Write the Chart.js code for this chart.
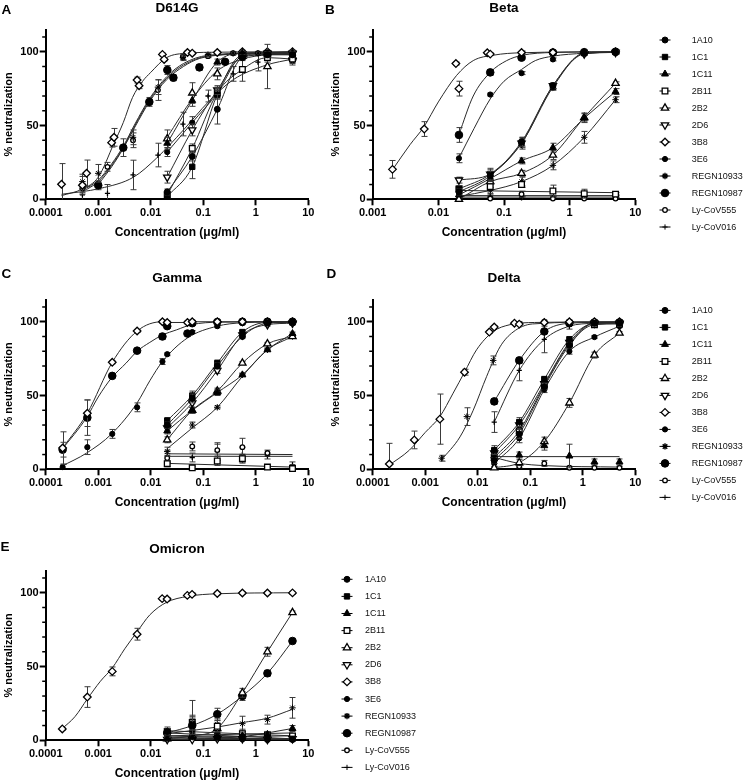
<!DOCTYPE html>
<html><head><meta charset="utf-8">
<script src="https://cdn.jsdelivr.net/npm/chart.js@4.4.1/dist/chart.umd.min.js"></script>
<style>
html,body{margin:0;padding:0;background:#fff;}
#root{position:relative;width:747px;height:782px;overflow:hidden;font-family:'Liberation Sans',Arial,sans-serif;background:#fff;}
canvas{position:absolute;}
.letter{position:absolute;font-weight:bold;font-size:13.5px;line-height:13.5px;color:#000;}
.legtxt{position:absolute;font-size:9px;line-height:12px;height:12px;color:#111;white-space:nowrap;}
</style></head><body><div id="root"></div>
<script>
// ---------------- DATA ----------------
const SERIES = ['1A10','1C1','1C11','2B11','2B2','2D6','3B8','3E6','REGN10933','REGN10987','Ly-CoV555','Ly-CoV016'];
const CONC = [0.0206, 0.0617, 0.185, 0.556, 1.667, 5];
const X_TICKS_WIDE = [0.0001, 0.001, 0.01, 0.1, 1, 10];
const X_LABELS_WIDE = ['0.0001','0.001','0.01','0.1','1','10'];
const X_TICKS_NARROW = [0.001, 0.01, 0.1, 1, 10];
const X_LABELS_NARROW = ['0.001','0.01','0.1','1','10'];
const Y_TICKS = [0, 50, 100];
const Y_MINOR = [10, 20, 30, 40, 60, 70, 80, 90, 110];

const D614G = {
 '1A10': {y:[5,29,61,96,98,98], e:[2,3,10,2,2,2]},
 '1C1': {y:[1.8,22,71,98,99,98], e:[1,8,3,1,1,1]},
 '1C11': {y:[38,67,93,99,98,99], e:[4,4,2,1,2,2]},
 '2B11': {y:[3,34.5,72,88,96,95], e:[2,3,4,8,3,4]},
 '2B2': {y:[41,72,85,97,90,97], e:[6,7,4,2,15,3], fx:CONC, fy:[42,68,87,95,98,99]},
 '2D6': {y:[15,47,74,97,99,99], e:[4,4,3,2,1,1]},
 '3B8': {x:[0.0002,0.0005,0.0006,0.0018,0.002,0.0055,0.006,0.0167,0.018,0.05,0.0617,0.185,0.556,1.667,5],
         y:[10.2,9.5,17.6,38.4,42,80.8,77,98.2,94.8,99.5,99,99.5,100,100,100],
         e:[14,6,9,3,6,2,2,1,1,1,1,1,1,1,1],
         fx:[0.0002,0.0005,0.001,0.002,0.003,0.0045,0.007,0.01,0.02,0.05,0.2,5],
         fy:[2.5,7,15,38,52,69,80,86,96,99,99.7,100]},
 '3E6': {y:[32,52,72,97,98,98], e:[3,4,3,2,2,2]},
 'REGN10933': {x:[0.0005,0.001,0.0046,0.0137,0.041,0.123,0.37,1.1,5], y:[12,17.6,42,76,96,98,99,99,99], e:[5,6,5,5,2,1,1,1,1],
         fx:[0.0005,0.001,0.0018,0.003,0.005,0.0094,0.02,0.042,0.12,5], fy:[6,13,24,36,51,68,83,92,97.5,99.8]},
 'REGN10987': {x:[0.001,0.003,0.0094,0.0207,0.027,0.0845,0.26,0.556,1.667,5], y:[9.5,35,66,87.6,82.4,89.4,93.2,97,98,95], e:[3,6,3,3,2,2,1,2,2,3],
         fx:[0.001,0.0018,0.003,0.005,0.0094,0.02,0.042,0.086,0.26,1.6,5], fy:[10,22,34.5,49,66,81,90,95.5,98,99.3,99.8]},
 'Ly-CoV555': {x:[0.0005,0.0015,0.0046,0.0137,0.041,0.123,0.37,1.1,5], y:[7.5,22,40,74,96.6,97,99,99,99], e:[3,3,5,7,2,1,1,1,1],
         fx:[0.0005,0.001,0.0018,0.003,0.005,0.0094,0.02,0.042,0.12,5], fy:[5,12,23,35,50,67,82,91,97,99.7]},
 'Ly-CoV016': {x:[0.0005,0.0015,0.0046,0.0137,0.041,0.123,0.37,1.1,5], y:[3,4,16.5,30,51,70,85,93,97], e:[4,6,10,8,8,4,5,6,3],
         fx:[0.0002,0.0011,0.0047,0.013,0.042,0.125,0.37,1.6,5], fy:[3.4,7.4,15,28,47,66,81,91,95]}
};

const BETA = {
 '1A10': {y:[5,16,39,77,99,99.5], e:[2,3,3,2,1,1]},
 '1C1': {y:[7,17,38,76,99,99.7], e:[2,4,4,2,1,1]},
 '1C11': {y:[3,14,26,35,55,73], e:[1,2,2,3,3,2]},
 '2B11': {y:[7,8.6,10,5.6,3.8,3.5], e:[2,2,2,4,3,1], fx:[0.0206,5], fy:[6,4.5]},
 '2B2': {y:[0,12,17.6,30,55.5,78.6], e:[1,2,2,3,3,1]},
 '2D6': {y:[13,17,38,77,98.5,99.5], e:[2,3,3,2,1,1]},
 '3B8': {x:[0.002,0.0061,0.0185,0.0206,0.0556,0.0617,0.185,0.556,1.667,5],
         y:[20.3,47.6,92,75,99.3,98.4,99.5,99.5,99.3,100], e:[6,5,1,5,1,1,1,1,1,1],
         fx:[0.002,0.0037,0.006,0.01,0.019,0.034,0.07,0.18,5], fy:[20,37,49,66,84,94,97.7,99.3,100]},
 '3E6': {y:[27.8,71,85.5,94.8,99.5,100], e:[3,1,1,1,1,1],
         fx:[0.0206,0.035,0.0617,0.1,0.185,0.3,0.556,1.667,5], fy:[28,48,68,80,88,94,97,99,100]},
 'REGN10933': {y:[2,6,12,23,42,67.5], e:[1,2,3,3,4,2]},
 'REGN10987': {y:[43.6,86,96,99.5,99.7,100], e:[5,2,1,1,1,1],
         fx:[0.0206,0.034,0.0617,0.11,0.185,0.556,5], fy:[44,70,86,94,97.5,99.5,100]},
 'Ly-CoV555': {y:[1,0.5,3.5,0.5,0.5,0.5], e:[1,1,2,1,1,1], fx:[0.0206,5], fy:[1.5,1.5]},
 'Ly-CoV016': {y:[3,2,1,1,1,2], e:[1,1,1,1,1,1], fx:[0.0206,5], fy:[2.5,2.5]}
};

const GAMMA = {
 '1A10': {y:[30,48,70,90,99,99.6], e:[2,3,2,1,1,1]},
 '1C1': {y:[33,50,72,93,99.5,99.5], e:[2,3,2,1,1,1]},
 '1C11': {y:[26,40,52,64,81,92], e:[2,2,2,1,1,1]},
 '2B11': {y:[3.8,1,5.6,7.2,1.5,0.5], e:[2,1,3,3,1,1], fx:[0.0206,5], fy:[4,1.5]},
 '2B2': {y:[20,40,53,72,85,90], e:[2,2,2,1,1,1]},
 '2D6': {y:[28,45,67,91,98,99], e:[2,3,2,1,1,1]},
 '3B8': {x:[0.00021,0.00062,0.00185,0.0055,0.0167,0.0206,0.05,0.0617,0.185,0.556,1.667,5],
         y:[14.4,38,72.5,93.7,100,99.5,99.5,100,100,100,100,100], e:[11,9,1,1,1,1,1,1,1,1,1,1]},
 '3E6': {x:[0.00021,0.00062,0.00185,0.0055,0.0167,0.0206,0.05,0.0617,0.185,0.556,1.667,5],
         y:[1.5,15,24,42,73,78,91.5,93,97,99,100,100], e:[2,5,3,3,2,1,1,1,1,1,1,1],
         fx:[0.0002,0.0006,0.0018,0.0055,0.0096,0.0167,0.05,0.185,0.556,5], fy:[2,11,24,45,60,73,89,97,99.3,100]},
 'REGN10933': {y:[12,30,42,64,81,90], e:[3,2,1,1,1,1], fx:CONC, fy:[14,28,42,63,81,90]},
 'REGN10987': {x:[0.00021,0.00062,0.00185,0.0055,0.0167,0.0206,0.05,0.0617,0.185,0.556,1.667,5],
         y:[13.3,35,63.3,80.4,90,97,92,99,99.8,100,100,100], e:[5,12,1,1,2,1,1,1,1,1,1,1],
         fx:[0.0002,0.0006,0.001,0.0018,0.0034,0.0055,0.0096,0.0167,0.031,0.06,0.2,5], fy:[13,35,49,62,72,80,86,91,94.5,98,99.7,100]},
 'Ly-CoV555': {y:[7.6,15.5,13,15,11,1], e:[3,3,4,6,2,2], fx:[0.0206,5], fy:[10.5,10]},
 'Ly-CoV016': {y:[9,8,12,10,9,3], e:[4,3,6,5,2,2], fx:[0.0206,5], fy:[8.8,8.8]}
};

const DELTA = {
 '1A10': {y:[6,24,56,84,99,99], e:[2,3,2,2,1,1]},
 '1C1': {y:[13,32,61,88,99,99.5], e:[3,3,2,2,1,1]},
 '1C11': {y:[9,9.7,16,9,5,5], e:[2,2,3,8,2,2], fx:[0.0206,5], fy:[8.6,8.6]},
 '2B11': {y:[8,26,57,85,98,98.5], e:[2,3,2,2,1,1]},
 '2B2': {y:[1,4.5,18.8,45,77.4,92.3], e:[1,2,3,3,2,1]},
 '2D6': {y:[11,30,58,86,99,99], e:[2,3,2,2,1,1]},
 '3B8': {x:[0.000207,0.00062,0.0019,0.0056,0.0166,0.0206,0.05,0.0617,0.185,0.556,1.667,5],
         y:[3.6,19.9,34,65.8,93,96.4,99,98.4,99.5,100,100,100], e:[14,6,17,2,1,1,1,1,1,1,1,1],
         fx:[0.0002,0.0005,0.001,0.0019,0.0034,0.0056,0.0095,0.0198,0.041,0.12,5], fy:[2.5,13,25,35.7,51.6,65.8,81,93.4,98,99.5,100]},
 '3E6': {y:[4,21,54,80,89.6,97], e:[2,3,2,2,1,1]},
 'REGN10933': {x:[0.00205,0.0062,0.0197,0.0617,0.185,0.556,1.667,5], y:[7.5,35.7,73.8,99,100,100,100,100], e:[2,6,3,1,1,1,1,1],
         fx:[0.002,0.0046,0.0082,0.0148,0.0266,0.047,0.11,5], fy:[6,22,40,63,83,93,98.5,100]},
 'REGN10987': {y:[46,73.8,93.4,99,99.5,99.5], e:[2,2,1,1,1,1]},
 'Ly-CoV555': {y:[10,2,4,1,1,1], e:[3,1,2,1,1,1], fx:[0.0206,0.0617,0.185,5], fy:[8,4,2.5,1.5]},
 'Ly-CoV016': {y:[32,67,88,97,99,99.5], e:[7,7,9,2,1,1]}
};

const OMICRON = {
 '1A10': {y:[6,10,2,1,0.5,0.5], e:[2,6,2,1,1,1], fx:[0.0206,5], fy:[3,0.5]},
 '1C1': {y:[5.5,11,3,2,1.5,1], e:[2,4,2,1,1,1], fx:[0.0206,5], fy:[5,1]},
 '1C11': {y:[1,2,1.5,3,4,8], e:[1,2,1,2,2,2], fx:[0.0206,0.556,5], fy:[0.5,2.5,8]},
 '2B11': {y:[6,12,9.5,4.5,3.6,3], e:[3,5,4,3,2,1], fx:[0.0206,5], fy:[6.5,3]},
 '2B2': {y:[1,3,8,32.2,60,86.6], e:[1,2,2,3,3,1]},
 '2D6': {y:[0.5,0.5,1,1,0.5,1], e:[1,1,1,1,1,1], fx:[0.0206,5], fy:[0.5,0.5]},
 '3B8': {x:[0.000207,0.00062,0.00185,0.0055,0.0165,0.0205,0.0497,0.0612,0.185,0.556,1.667,5],
         y:[7.7,29.3,46.7,71.9,96,95.7,98.2,98.9,99.5,99.8,99.8,99.9], e:[1,7,3,4,1,1,1,1,1,1,1,1],
         fx:[0.0002,0.00036,0.00062,0.0011,0.00185,0.0032,0.0055,0.0096,0.02,0.05,0.185,5],
         fy:[7.5,16,28,40,49,62,73.5,85,93.5,97.5,99.3,100]},
 '3E6': {y:[1,6,2,3,2,3], e:[1,3,1,1,1,1], fx:[0.0206,5], fy:[2,3]},
 'REGN10933': {y:[4,9,11,11.3,14,22], e:[2,5,4,5,3,7], fx:[0.0206,0.185,0.556,1.667,5], fy:[4.5,9,12,15,21]},
 'REGN10987': {y:[5,10,17.7,30,45.4,67.3], e:[2,3,4,3,2,1]},
 'Ly-CoV555': {y:[2,3,1,1,1,1], e:[1,2,1,1,1,1], fx:[0.0206,5], fy:[1.5,1]},
 'Ly-CoV016': {y:[3,12,5,4,3,2], e:[2,15,3,2,2,2], fx:[0.0206,5], fy:[3,5]}
};

// ---------------- STYLE / LAYOUT ----------------
const MARK = {
 '1A10': {ps:'circle', r:3, fill:true},
 '1C1': {ps:'rect', r:3.8, fill:true},
 '1C11': {ps:'triangle', r:4, fill:true},
 '2B11': {ps:'rect', r:4, fill:false},
 '2B2': {ps:'triangle', r:4.2, fill:false},
 '2D6': {ps:'triangle', r:4.2, fill:false, rot:180},
 '3B8': {ps:'rectRot', r:3.8, fill:false},
 '3E6': {ps:'circle', r:2.6, fill:true},
 'REGN10933': {ps:'star', r:3.2, fill:true},
 'REGN10987': {ps:'circle', r:3.8, fill:true},
 'Ly-CoV555': {ps:'circle', r:2.3, fill:false},
 'Ly-CoV016': {ps:'cross', r:2.6, fill:false}
};

const PANELS = [
 {letter:'A', title:'D614G', data:D614G, ticks:X_TICKS_WIDE, labels:X_LABELS_WIDE, left:0, top:0, lx:1.5, ly:3.3},
 {letter:'B', title:'Beta', data:BETA, ticks:X_TICKS_NARROW, labels:X_LABELS_NARROW, left:327, top:0, lx:325, ly:2.5},
 {letter:'C', title:'Gamma', data:GAMMA, ticks:X_TICKS_WIDE, labels:X_LABELS_WIDE, left:0, top:270, lx:1.5, ly:266.6},
 {letter:'D', title:'Delta', data:DELTA, ticks:X_TICKS_WIDE, labels:X_LABELS_WIDE, left:327, top:270, lx:326.5, ly:266.6},
 {letter:'E', title:'Omicron', data:OMICRON, ticks:X_TICKS_WIDE, labels:X_LABELS_WIDE, left:0, top:541, lx:0.5, ly:540}
];
const LEGENDS = [
 {mx:664.7, tx:691.7, y0:40, dy:17},
 {mx:664.7, tx:691.7, y0:310.4, dy:17},
 {mx:347.2, tx:365, y0:579.3, dy:17.1}
];

const CW = 330, CH = 240;
const root = document.getElementById('root');
Chart.defaults.font.family = "'Liberation Sans', Arial, sans-serif";
Chart.defaults.color = '#000';

const errorBars = {
  id: 'errorBars',
  beforeDatasetDraw(chart, args) {
    const ds = chart.data.datasets[args.index];
    if (!ds.errs) return;
    const ys = chart.scales.y, ctx = chart.ctx;
    ctx.save();
    ctx.strokeStyle = '#3a3a3a'; ctx.lineWidth = 1;
    args.meta.data.forEach((pt, i) => {
      const e = ds.errs[i]; if (!e) return;
      const v = ds.data[i].y;
      const x = Math.round(pt.x) + 0.5;
      const y1 = ys.getPixelForValue(v + e), y2 = ys.getPixelForValue(Math.max(0, v - e));
      ctx.beginPath();
      ctx.moveTo(x, y1); ctx.lineTo(x, y2);
      ctx.moveTo(x - 3, y1); ctx.lineTo(x + 3, y1);
      if (v - e > 0) { ctx.moveTo(x - 3, y2); ctx.lineTo(x + 3, y2); }
      ctx.stroke();
    });
    ctx.restore();
  }
};
const minorTicks = {
  id: 'minorTicks',
  afterDraw(chart) {
    const y = chart.scales.y, ctx = chart.ctx;
    ctx.save(); ctx.strokeStyle = '#000'; ctx.lineWidth = 1.5;
    Y_MINOR.forEach(v => {
      const p = y.getPixelForValue(v);
      ctx.beginPath(); ctx.moveTo(y.right, p); ctx.lineTo(y.right - 3.5, p); ctx.stroke();
    });
    ctx.restore();
  }
};

function buildDatasets(panel) {
  const lines = [], pts = [];
  SERIES.forEach(name => {
    const s = panel[name]; if (!s) return;
    const xs = s.x || CONC;
    const fx = s.fx || xs, fy = s.fy || s.y;
    const m = MARK[name];
    lines.push({
      label: name + ' fit', data: fx.map((x, i) => ({x, y: fy[i]})),
      showLine: true, pointRadius: 0, pointHoverRadius: 0, borderColor: '#2a2a2a', borderWidth: 1,
      cubicInterpolationMode: 'monotone', fill: false, order: 3
    });
    pts.push({
      label: name, data: xs.map((x, i) => ({x, y: s.y[i]})), errs: s.e,
      showLine: false, pointStyle: m.ps, pointRadius: m.r, pointHoverRadius: m.r,
      pointRotation: m.rot || 0,
      pointBackgroundColor: m.fill ? '#000' : '#fff', pointBorderColor: '#000',
      pointBorderWidth: m.fill ? 1 : 1.3, borderColor: '#000', clip: false, order: 1
    });
  });
  return lines.concat(pts);
}

PANELS.forEach(p => {
  const cv = document.createElement('canvas');
  cv.width = CW; cv.height = CH;
  cv.style.left = p.left + 'px'; cv.style.top = p.top + 'px';
  cv.style.width = CW + 'px'; cv.style.height = CH + 'px';
  root.appendChild(cv);
  const lt = document.createElement('div');
  lt.className = 'letter'; lt.textContent = p.letter;
  lt.style.left = p.lx + 'px'; lt.style.top = p.ly + 'px';
  root.appendChild(lt);

  new Chart(cv.getContext('2d'), {
    type: 'line',
    data: {datasets: buildDatasets(p.data)},
    plugins: [errorBars, minorTicks],
    options: {
      responsive: false, animation: false, devicePixelRatio: 1,
      layout: {padding: {left: 0, right: 21.7, top: 0, bottom: 0}},
      plugins: {
        legend: {display: false}, tooltip: {enabled: false},
        title: {display: true, text: p.title, fullSize: false, color: '#000',
                font: {size: 13.5, weight: 'bold'}, padding: {top: 0, bottom: 13.4}}
      },
      scales: {
        x: {
          type: 'logarithmic', min: p.ticks[0], max: p.ticks[p.ticks.length - 1],
          afterBuildTicks: s => { s.ticks = p.ticks.map(v => ({value: v})); },
          afterFit: s => { s.height = 40.7; },
          ticks: {callback: (v, i) => p.labels[i], font: {size: 11, weight: 'bold'}, color: '#000',
                  padding: 1, maxRotation: 0, autoSkip: false},
          grid: {display: true, drawOnChartArea: false, drawTicks: true, tickLength: 6, tickWidth: 2, tickColor: '#000'},
          border: {display: true, color: '#000', width: 2},
          title: {display: true, text: 'Concentration (μg/ml)', color: '#000',
                  font: {size: 12, weight: 'bold'}, padding: {top: 0, bottom: 0.5}}
        },
        y: {
          type: 'linear', min: 0, max: 115,
          afterBuildTicks: s => { s.ticks = Y_TICKS.map(v => ({value: v})); },
          afterFit: s => { s.width = 45.7; },
          ticks: {callback: v => String(v), font: {size: 11, weight: 'bold'}, color: '#000', padding: 1},
          grid: {display: true, drawOnChartArea: false, drawTicks: true, tickLength: 6, tickWidth: 2, tickColor: '#000'},
          border: {display: true, color: '#000', width: 2},
          title: {display: true, text: '% neutralization', color: '#000',
                  font: {size: 11, weight: 'bold'}, padding: {top: 2.6, bottom: 0}}
        }
      }
    }
  });
});

// ---------------- LEGENDS ----------------
function drawMarker(ctx, m, x, y) {
  const r = m.r;
  ctx.beginPath();
  if (m.ps === 'circle') { ctx.arc(x, y, r, 0, Math.PI * 2); }
  else if (m.ps === 'rect') { const s = r * Math.SQRT1_2; ctx.rect(x - s, y - s, 2 * s, 2 * s); }
  else if (m.ps === 'rectRot') { ctx.moveTo(x, y - r); ctx.lineTo(x + r, y); ctx.lineTo(x, y + r); ctx.lineTo(x - r, y); ctx.closePath(); }
  else if (m.ps === 'triangle') {
    let a = (m.rot || 0) * Math.PI / 180;
    ctx.moveTo(x + Math.sin(a) * r, y - Math.cos(a) * r);
    a += 2 * Math.PI / 3; ctx.lineTo(x + Math.sin(a) * r, y - Math.cos(a) * r);
    a += 2 * Math.PI / 3; ctx.lineTo(x + Math.sin(a) * r, y - Math.cos(a) * r);
    ctx.closePath();
  } else if (m.ps === 'star' || m.ps === 'cross') {
    ctx.moveTo(x, y - r); ctx.lineTo(x, y + r); ctx.moveTo(x - r, y); ctx.lineTo(x + r, y);
    if (m.ps === 'star') { const d = r * Math.SQRT1_2; ctx.moveTo(x - d, y - d); ctx.lineTo(x + d, y + d); ctx.moveTo(x + d, y - d); ctx.lineTo(x - d, y + d); }
    ctx.lineWidth = m.ps === 'star' ? 1.4 : 1; ctx.stroke(); return;
  }
  ctx.fillStyle = m.fill ? '#000' : '#fff'; ctx.fill();
  ctx.lineWidth = m.fill ? 1 : 1.3; ctx.stroke();
}
LEGENDS.forEach(L => {
  SERIES.forEach((name, i) => {
    const yc = L.y0 + i * L.dy;
    const c = document.createElement('canvas');
    c.width = 16; c.height = 12;
    c.style.left = (L.mx - 8) + 'px'; c.style.top = Math.round(yc - 6) + 'px';
    c.style.width = '16px'; c.style.height = '12px';
    root.appendChild(c);
    const ctx = c.getContext('2d');
    const cy = yc - Math.round(yc - 6);
    ctx.strokeStyle = '#000'; ctx.lineWidth = 1;
    ctx.beginPath(); ctx.moveTo(2.5, cy); ctx.lineTo(13.5, cy); ctx.stroke();
    drawMarker(ctx, MARK[name], 8, cy);
    const t = document.createElement('div');
    t.className = 'legtxt'; t.textContent = name;
    t.style.left = L.tx + 'px'; t.style.top = (yc - 6.5) + 'px';
    root.appendChild(t);
  });
});
</script></body></html>
